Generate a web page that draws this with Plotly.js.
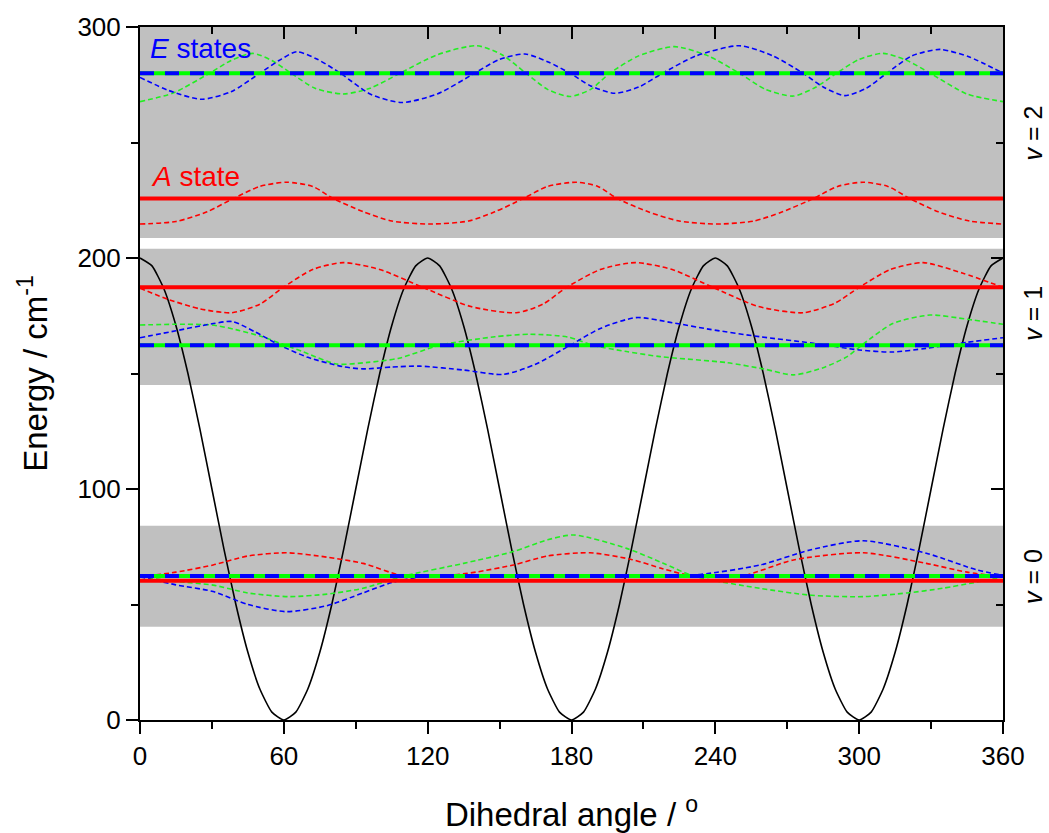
<!DOCTYPE html>
<html>
<head>
<meta charset="utf-8">
<script src="https://cdn.plot.ly/plotly-3.0.1.min.js"></script>
<style>html,body{margin:0;padding:0;background:#fff;}#chart{width:1049px;height:833px;}</style>
</head>
<body>
<div id="chart"></div>
<script>
// ---- Torsional potential (black), read every 5 degrees ----
const potAngle = [0,5,10,15,20,25,30,35,40,45,50,55,60,65,70,75,80,85,90,95,100,105,110,115,120,
  125,130,135,140,145,150,155,160,165,170,175,180,185,190,195,200,205,210,215,220,225,230,235,240,
  245,250,255,260,265,270,275,280,285,290,295,300,305,310,315,320,325,330,335,340,345,350,355,360];
const potEnergy = [200,196.6,186.6,170.7,150,125.9,100,74.1,50,29.3,13.4,3.4,0,3.4,13.4,29.3,50,74.1,100,125.9,150,170.7,186.6,196.6,200,
  196.6,186.6,170.7,150,125.9,100,74.1,50,29.3,13.4,3.4,0,3.4,13.4,29.3,50,74.1,100,125.9,150,170.7,186.6,196.6,200,
  196.6,186.6,170.7,150,125.9,100,74.1,50,29.3,13.4,3.4,0,3.4,13.4,29.3,50,74.1,100,125.9,150,170.7,186.6,196.6,200];

// ---- Shaded vibrational bands ----
const bandLow  = [40.4, 145, 208.7];
const bandHigh = [84.1, 204, 300];

// ---- Energy levels ----
const levelA = [60.3, 187.3, 225.8];   // A state (red)
const levelE = [62.3, 162.2, 280.0];   // E states (blue/green)

// ---- v = 2 densities ----
const v2RedAngle = [0,15,28,39,50,61,72,80.5,93,105,121,137,148,160,170,182,191,199,212,225,240.6,256,268,281,291,301.7,312,321,333,346,360];
const v2RedVal   = [214.7,215.8,220,225.8,231,232.8,231,225.8,220.1,216,214.7,216,220,225.8,231,232.8,231,225.8,220,216,214.7,216,220,225.8,231,232.8,231,225.8,220,216,214.7];
const v2BlueAngle = [0,12,25.7,38,50,58,65.4,74,83.6,96,109,124,139.6,150,160.6,170,179.4,188,198,208,218,232,250,264,276.6,285,294,303,311.5,322,333.7,346,360];
const v2BlueVal   = [278.2,272.5,268.7,272,280,285.5,289.3,286,280,271,267.3,271,280,286,288.3,285,280,274.5,271.3,274,280,287.5,291.9,287.5,280,274,270.3,273.5,280,287.5,290.3,287,280];
const v2GreenAngle = [0,14,29,38,47,55,63,73,84.8,96,108.5,124,140.5,151,161,170,179.4,188,196,208,223,237,250,261,272.5,282,290.6,300,310,320,329.6,345,360];
const v2GreenVal   = [267.7,271.5,280,285.5,288.6,285.5,280,273.5,271,273.5,280,288,291.9,288,280,273,269.9,273,280,287.5,291.5,287.5,280,273,270.1,274,280,286,288.6,285.5,280,271,267.7];

// ---- v = 1 densities ----
const v1RedAngle = [0,12,25,38.2,50,59.8,72,84.8,100,118,138,157,168,178,192,206.5,222,239,258,276.6,290,300,313,326.7,343,360];
const v1RedVal   = [186.9,182,178,176.3,180,187.3,195,198,195,187.3,179,176.3,180,187.3,195,198,195,187.3,179,176.3,180.5,187.3,195,198,193.5,187.3];
const v1BlueAngle = [0,15,30,38.5,48,58.4,70,84.8,93,105,116.8,135,151.6,165,179.4,192,207,222,237.8,258.7,280.9,300,314,328,345,360];
const v1BlueVal   = [165.5,168.5,171.5,172.5,168,162.2,157,152.9,152,152.8,153.2,151.5,149.6,154,162.2,169.5,174.2,172,169.1,165.9,163.1,160.2,159.3,160.9,163.5,165.5];
const v1GreenAngle = [0,15,30,40,51,60.8,68,82,95,108,125,148,162.7,178.5,189,203,217,244.8,260,272.6,285,295,302,314,329.6,345,360];
const v1GreenVal   = [171,171.3,171,169,165.9,162.2,159.4,154.1,154.8,156.6,162.2,165.9,167,165.8,162.2,159.5,157.3,154.7,152,149.4,152.5,157.3,163,171.6,175.3,173.5,171.3];

// ---- v = 0 densities ----
const v0RedAngle = [0,15,30.5,45,61,78,93,110,125,140,155.7,170,187.7,205,218,230.8,251,272.6,301.7,328,345,360];
const v0RedVal   = [62,64,67.1,71,72.4,70.5,67.8,62.3,62.2,64,67.1,71,72.4,69.5,65.5,62.3,62.3,69.3,72.4,67.8,64,62];
const v0GreenAngle = [0,15,30.5,45,62,78,93,110,135,155.7,170,181,203,218,231,258.7,280,301.7,320,334.7,348,360];
const v0GreenVal   = [62,60,58.4,55,53.4,54.5,57,62.3,67.8,72.9,78,80.1,74.3,68,62.3,57,54,53.4,55,57,59.5,62];
const v0BlueAngle = [0,15,30.5,45,61,78,93,105,118,140,160,190,215,233.6,258.7,279.5,301.7,328,349,360];
const v0BlueVal   = [62,58.5,55.6,50,46.9,49.5,55,59.5,62,62.6,62.8,62.5,62.4,63,67.1,73.6,77.6,72.2,65,62.6];

// ---- labels ----
const vLabels = ['<i>v</i> = 0', '<i>v</i> = 1', '<i>v</i> = 2'];
const vLabelY = [62, 176, 254];
const xTicks = [0,60,120,180,240,300,360];
const yTicks = [0,100,200,300];

const RED = '#ff0000', BLUE = '#0000ff', GREEN = '#00ff00', GREEN_D = '#22ee22';
const FONT = 'Liberation Sans, Arial, sans-serif';
const thin = {width: 1.6, dash: '5px,3px', shape: 'spline', smoothing: 0.7};

function dashed(x, y, color) {
  return {x: x, y: y, type: 'scatter', mode: 'lines', hoverinfo: 'skip',
          line: Object.assign({color: color}, thin), showlegend: false};
}
function level(v, color, width, dash) {
  return {x: [0, 360], y: [v, v], type: 'scatter', mode: 'lines', hoverinfo: 'skip',
          line: {color: color, width: width, dash: dash}, showlegend: false};
}

const traces = [];
traces.push({x: potAngle, y: potEnergy, type: 'scatter', mode: 'lines', hoverinfo: 'skip',
             line: {color: '#000', width: 1.6, shape: 'spline', smoothing: 0.5}, showlegend: false});
traces.push(dashed(v2RedAngle, v2RedVal, RED));
traces.push(dashed(v2GreenAngle, v2GreenVal, GREEN_D));
traces.push(dashed(v2BlueAngle, v2BlueVal, BLUE));
traces.push(dashed(v1RedAngle, v1RedVal, RED));
traces.push(dashed(v1GreenAngle, v1GreenVal, GREEN_D));
traces.push(dashed(v1BlueAngle, v1BlueVal, BLUE));
traces.push(dashed(v0RedAngle, v0RedVal, RED));
traces.push(dashed(v0GreenAngle, v0GreenVal, GREEN_D));
traces.push(dashed(v0BlueAngle, v0BlueVal, BLUE));
for (let i = 0; i < 3; i++) {
  traces.push(level(levelE[i], GREEN, 4, 'solid'));
  traces.push(level(levelE[i], BLUE, 4, '14px,11px'));
  traces.push(level(levelA[i], RED, 4, 'solid'));
}
// invisible trace to activate the mirror axes
traces.push({x: [0, 360], y: [0, 300], xaxis: 'x2', yaxis: 'y2', mode: 'markers',
             marker: {opacity: 0}, hoverinfo: 'skip', showlegend: false});

const shapes = bandLow.map((lo, i) => ({type: 'rect', xref: 'paper', yref: 'y', x0: 0, x1: 1,
  y0: lo, y1: bandHigh[i], fillcolor: '#c0c0c0', line: {width: 0}, layer: 'below'}));

const annotations = vLabels.map((t, i) => ({text: t, xref: 'paper', yref: 'y', x: 1.035, y: vLabelY[i],
  textangle: -90, showarrow: false, font: {family: FONT, size: 25, color: '#000'},
  xanchor: 'center', yanchor: 'middle'}));
annotations.push({text: '<i>E</i> states', xref: 'paper', yref: 'y', x: 0.009, y: 290.5,
  showarrow: false, xanchor: 'left', yanchor: 'middle', font: {family: FONT, size: 28, color: BLUE}});
annotations.push({text: '<i>A</i> state', xref: 'paper', yref: 'y', x: 0.011, y: 235.5,
  showarrow: false, xanchor: 'left', yanchor: 'middle', font: {family: FONT, size: 28, color: RED}});

const axisCommon = {showline: true, linecolor: '#000', linewidth: 2, showgrid: false, zeroline: false,
  tickcolor: '#000', tickwidth: 2, ticklen: 12};

const layout = {
  width: 1049, height: 833,
  margin: {l: 140, r: 46, t: 27, b: 113},
  paper_bgcolor: '#fff', plot_bgcolor: '#fff',
  showlegend: false,
  xaxis: Object.assign({}, axisCommon, {range: [0, 360], tickvals: xTicks, ticks: 'outside',
    minor: {dtick: 30, ticks: 'outside', ticklen: 7, tickwidth: 2, tickcolor: '#000'},
    tickfont: {family: FONT, size: 26, color: '#000'},
    title: {text: 'Dihedral angle / <sup>o</sup>', font: {family: FONT, size: 33, color: '#000'}, standoff: 34}}),
  yaxis: Object.assign({}, axisCommon, {range: [0, 300], tickvals: yTicks, ticks: 'outside',
    minor: {dtick: 50, ticks: 'outside', ticklen: 7, tickwidth: 2, tickcolor: '#000'},
    tickfont: {family: FONT, size: 26, color: '#000'},
    title: {text: 'Energy / cm<sup>-1</sup>', font: {family: FONT, size: 33, color: '#000'}, standoff: 20}}),
  xaxis2: Object.assign({}, axisCommon, {range: [0, 360], overlaying: 'x', side: 'top', tickvals: xTicks,
    ticks: 'inside', showticklabels: false,
    minor: {dtick: 30, ticks: 'inside', ticklen: 7, tickwidth: 2, tickcolor: '#000'}}),
  yaxis2: Object.assign({}, axisCommon, {range: [0, 300], overlaying: 'y', side: 'right', tickvals: yTicks,
    ticks: 'inside', showticklabels: false,
    minor: {dtick: 50, ticks: 'inside', ticklen: 7, tickwidth: 2, tickcolor: '#000'}}),
  shapes: shapes,
  annotations: annotations
};

Plotly.newPlot('chart', traces, layout, {staticPlot: true, displayModeBar: false});
</script>
</body>
</html>
